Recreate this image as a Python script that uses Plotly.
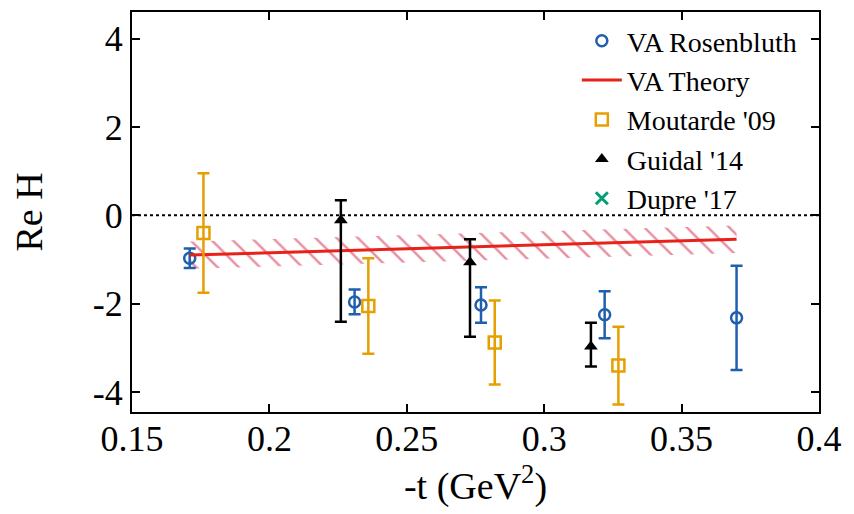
import plotly.graph_objects as go

# ---- data ----
ros_t = [0.171, 0.231, 0.277, 0.322, 0.370]
ros_reh = [-0.97, -1.96, -2.03, -2.25, -2.32]
ros_err = [0.22, 0.28, 0.40, 0.53, 1.18]

mou_t = [0.176, 0.236, 0.282, 0.327]
mou_reh = [-0.40, -2.05, -2.88, -3.40]
mou_err = [1.35, 1.08, 0.95, 0.88]

gui_t = [0.226, 0.273, 0.317]
gui_reh = [-0.11, -1.06, -2.97]
gui_err_plus = [0.45, 0.52, 0.54]
gui_err_minus = [2.30, 1.69, 0.45]

# Dupre '17 appears only in the legend (no points visible in this range)
dup_t = [None]
dup_reh = [None]

theory_t = [0.171, 0.20, 0.25, 0.30, 0.35, 0.370]
theory_reh = [-0.90, -0.85, -0.76, -0.67, -0.58, -0.54]
theory_band = [0.31, 0.31, 0.31, 0.31, 0.31, 0.31]

x_ticks = [0.15, 0.2, 0.25, 0.3, 0.35, 0.4]
x_tick_labels = ["0.15", "0.2", "0.25", "0.3", "0.35", "0.4"]
y_ticks = [-4, -2, 0, 2, 4]
y_tick_labels = ["-4", "-2", "0", "2", "4"]

BLUE = "#1f5fad"
RED = "#e8221a"
ORANGE = "#e69f00"
BLACK = "#000000"
GREEN = "#009e73"
FONT = "Liberation Serif"

theory_lo = [y - b for y, b in zip(theory_reh, theory_band)]
theory_hi = [y + b for y, b in zip(theory_reh, theory_band)]

fig = go.Figure()

# hatched theory band
fig.add_trace(go.Scatter(x=theory_t, y=theory_lo, mode="lines",
                         line=dict(width=0, color="rgba(0,0,0,0)"),
                         showlegend=False, hoverinfo="skip"))
fig.add_trace(go.Scatter(x=theory_t, y=theory_hi, mode="lines",
                         line=dict(width=0, color="rgba(0,0,0,0)"),
                         fill="tonexty", fillcolor="rgba(0,0,0,0)",
                         fillpattern=dict(shape="\\", fgcolor="rgba(205,20,55,0.95)",
                                          bgcolor="rgba(0,0,0,0)", size=15, solidity=0.17),
                         showlegend=False, hoverinfo="skip"))

fig.add_trace(go.Scatter(
    x=ros_t, y=ros_reh, mode="markers", name="VA Rosenbluth",
    marker=dict(symbol="circle-open", size=11, color=BLUE, line=dict(width=2.5, color=BLUE)),
    error_y=dict(type="data", array=ros_err, color=BLUE, thickness=2.5, width=6)))

fig.add_trace(go.Scatter(
    x=theory_t, y=theory_reh, mode="lines", name="VA Theory",
    line=dict(color=RED, width=3)))

fig.add_trace(go.Scatter(
    x=mou_t, y=mou_reh, mode="markers", name="Moutarde '09",
    marker=dict(symbol="square-open", size=12, color=ORANGE, line=dict(width=2.5, color=ORANGE)),
    error_y=dict(type="data", array=mou_err, color=ORANGE, thickness=2.5, width=6)))

fig.add_trace(go.Scatter(
    x=gui_t, y=gui_reh, mode="markers", name="Guidal '14",
    marker=dict(symbol="triangle-up", size=12, color=BLACK),
    error_y=dict(type="data", symmetric=False, array=gui_err_plus,
                 arrayminus=gui_err_minus, color=BLACK, thickness=2.5, width=6)))

fig.add_trace(go.Scatter(
    x=dup_t, y=dup_reh, mode="markers", name="Dupre '17",
    marker=dict(symbol="x-thin-open", size=12, color=GREEN, line=dict(width=3, color=GREEN))))

fig.add_hline(y=0, line=dict(color="black", width=2, dash="dot"), layer="below")

fig.update_layout(
    width=846, height=506,
    margin=dict(l=124, r=35, t=4, b=102),
    paper_bgcolor="white", plot_bgcolor="white",
    font=dict(family=FONT, size=36, color="black"),
    showlegend=True,
    legend=dict(x=0.975, y=0.99, xanchor="right", yanchor="top",
                traceorder="normal",
                bgcolor="rgba(255,255,255,0)", font=dict(family=FONT, size=28),
                tracegroupgap=0, itemwidth=40),
    xaxis=dict(range=[0.15, 0.4], tickvals=x_ticks, ticktext=x_tick_labels,
               tickfont=dict(family=FONT, size=36), ticklabelstandoff=-6,
               ticks="inside", ticklen=8, tickwidth=1.5, tickcolor="black",
               showline=True, linecolor="black", linewidth=2, mirror="ticks",
               showgrid=False, zeroline=False, automargin=False,
               title=dict(text="-t (GeV<sup>2</sup>)", font=dict(family=FONT, size=38), standoff=8)),
    yaxis=dict(range=[-4.45, 4.6], tickvals=y_ticks, ticktext=y_tick_labels,
               tickfont=dict(family=FONT, size=36),
               ticks="inside", ticklen=8, tickwidth=1.5, tickcolor="black",
               showline=True, linecolor="black", linewidth=2, mirror="ticks",
               showgrid=False, zeroline=False, automargin=False,
               title=dict(text="Re H", font=dict(family=FONT, size=38), standoff=38)),
)

fig.write_html("out.html")
